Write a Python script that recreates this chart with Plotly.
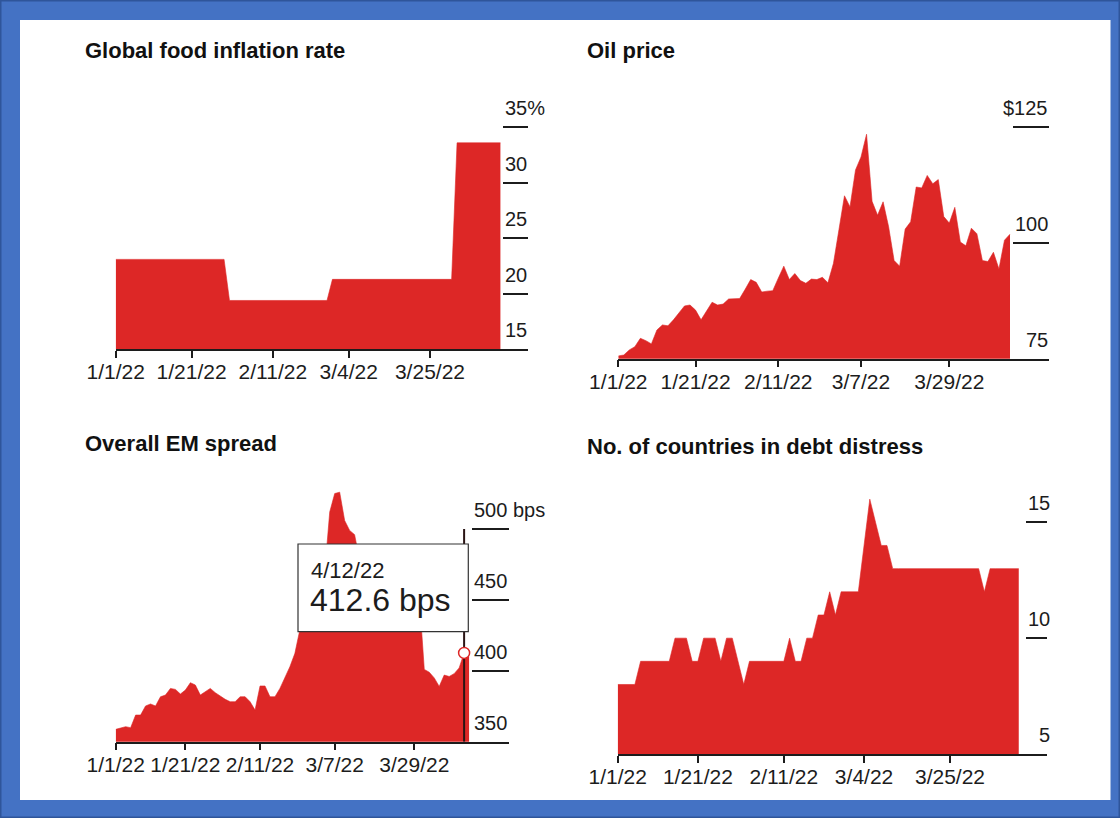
import pandas as pd
import plotly.graph_objects as go

# ---------------- data ----------------
food_dates = ["2022-01-03", "2022-01-31", "2022-02-01", "2022-02-28",
              "2022-03-01", "2022-03-31", "2022-04-01", "2022-04-13"]
food_values = [23.1, 23.1, 19.4, 19.4, 21.3, 21.3, 33.6, 33.6]

oil_values = [75.6, 75.8, 76.9, 77.6, 79.4, 78.9, 78.2, 81.2, 82.3, 82.1,
              83.4, 84.9, 86.4, 86.6, 85.5, 83.4, 85.2, 87.2, 86.6, 86.8,
              87.9, 87.9, 88.0, 90.0, 92.1, 91.5, 89.4, 89.6, 89.7, 92.4,
              95.0, 92.1, 93.4, 91.9, 91.3, 92.2, 92.1, 92.6, 91.4, 95.6,
              103.0, 110.2, 107.8, 115.8, 118.6, 123.5, 109.0, 106.0, 108.9, 103.5,
              96.2, 95.0, 103.0, 104.6, 112.1, 111.9, 114.6, 112.8, 113.7, 105.7,
              104.3, 107.7, 100.2, 99.4, 103.2, 102.0, 96.2, 96.0, 98.0, 94.4,
              100.6, 101.9]

em_values = [358.7, 359.4, 360.6, 359.9, 368.8, 368.8, 375.2, 376.6, 375.2, 381.7,
             382.9, 387.6, 386.9, 383.6, 386.4, 391.6, 390.0, 382.9, 385.3, 387.6,
             384.6, 382.2, 379.9, 378.2, 378.2, 381.7, 381.7, 378.2, 372.3, 389.3,
             389.3, 381.7, 381.7, 387.6, 394.7, 402.9, 412.3, 429.0, 440.0, 450.0,
             458.0, 463.0, 470.0, 512.0, 525.0, 526.0, 506.0, 499.0, 496.0, 478.0,
             470.0, 463.0, 468.0, 462.0, 456.0, 452.0, 448.0, 446.0, 442.0, 440.0,
             448.0, 452.0, 401.0, 399.0, 395.0, 389.0, 397.0, 396.0, 398.0, 402.0,
             412.6, 410.0]

debt_values = [8, 8, 8, 8, 9, 9, 9, 9, 9, 9,
               10, 10, 10, 9, 9, 10, 10, 10, 9, 10,
               10, 9, 8, 9, 9, 9, 9, 9, 9, 9,
               10, 9, 9, 10, 10, 11, 11, 12, 11, 12,
               12, 12, 12, 14, 16, 15, 14, 14, 13, 13,
               13, 13, 13, 13, 13, 13, 13, 13, 13, 13,
               13, 13, 13, 13, 12, 13, 13, 13, 13, 13,
               13]

ticks_a = ["2022-01-03", "2022-01-21", "2022-02-11", "2022-03-04", "2022-03-25"]
labels_a = ["1/1/22", "1/21/22", "2/11/22", "3/4/22", "3/25/22"]
ticks_b = ["2022-01-03", "2022-01-21", "2022-02-11", "2022-03-07", "2022-03-29"]
labels_b = ["1/1/22", "1/21/22", "2/11/22", "3/7/22", "3/29/22"]

food_yticks = [15, 20, 25, 30, 35]
food_ylabels = ["15", "20", "25", "30", "35%"]
oil_yticks = [75, 100, 125]
oil_ylabels = ["75", "100", "$125"]
em_yticks = [350, 400, 450, 500]
em_ylabels = ["350", "400", "450", "500 bps"]
debt_yticks = [5, 10, 15]
debt_ylabels = ["5", "10", "15"]

titles = ["Global food inflation rate", "Oil price",
          "Overall EM spread", "No. of countries in debt distress"]

hover_date = "2022-04-12"
hover_value = 412.6
hover_date_label = "4/12/22"
hover_value_label = "412.6 bps"

HOLIDAYS = ["2022-02-21"]


def trading_days(n):
    return pd.bdate_range("2022-01-03", periods=n, freq="C",
                          holidays=HOLIDAYS).strftime("%Y-%m-%d").tolist()


# ---------------- style / layout ----------------
W, H = 1120, 818
RED = "#DD2726"
INK = "#1c1c1c"
FRAME = "#4472C4"
FONT = "Liberation Sans, Arial, Helvetica, sans-serif"


def px(x):
    return x / W


def py(y):
    return 1 - y / H


def top_px(yb, yt, lo, hi, top):
    # pixel row of the upper range limit, keeping the tick spacing seen in the reference
    return yb - (top - lo) * (yb - yt) / (hi - lo)


panels = [
    dict(x=food_dates, y=food_values, x0=115.7, x1=527.5, yb=349.3, yt=127.3,
         xr=["2022-01-03", "2022-04-20"], lo=15, hi=35, top=35.4, ticklen=25,
         tv=ticks_a, tt=labels_a, ytv=food_yticks, ytt=food_ylabels,
         lab_x=503, lab_anchor="left", title_xy=(85, 50)),
    dict(x=trading_days(len(oil_values)), y=oil_values, x0=618.3, x1=1048.6, yb=358.7, yt=127.3,
         xr=["2022-01-03", "2022-04-22"], lo=75, hi=125, top=126, ticklen=36,
         tv=ticks_b, tt=labels_b, ytv=oil_yticks, ytt=oil_ylabels,
         lab_x=1050, lab_anchor="right", title_xy=(587, 50)),
    dict(x=trading_days(len(em_values)), y=em_values, x0=115.7, x1=508.9, yb=741.7, yt=529.0,
         xr=["2022-01-03", "2022-04-25"], lo=350, hi=500, top=530, ticklen=37,
         tv=ticks_b, tt=labels_b, ytv=em_yticks, ytt=em_ylabels,
         lab_x=471.5, lab_anchor="left", title_xy=(85, 444)),
    dict(x=trading_days(len(debt_values)), y=debt_values, x0=617.7, x1=1047.4, yb=754, yt=522.3,
         xr=["2022-01-03", "2022-04-19"], lo=5, hi=15, top=16.5, ticklen=21,
         tv=ticks_a, tt=labels_a, ytv=debt_yticks, ytt=debt_ylabels,
         lab_x=1052, lab_anchor="right", title_xy=(587, 446)),
]

fig = go.Figure()
layout = dict(
    width=W, height=H, margin=dict(l=0, r=0, t=0, b=0, pad=0, autoexpand=False),
    autosize=False,
    paper_bgcolor=FRAME, plot_bgcolor="white", showlegend=False,
    font=dict(family=FONT, color=INK), hovermode=False,
)
annotations = []
shapes = [
    dict(type="rect", xref="paper", yref="paper", x0=0, x1=1, y0=0, y1=1,
         line=dict(color="#2F559A", width=3), fillcolor=FRAME, layer="below"),
    dict(type="rect", xref="paper", yref="paper", x0=px(20), x1=px(1110.5),
         y0=py(800), y1=py(20), line=dict(width=0), fillcolor="white", layer="below"),
]

for i, p in enumerate(panels, start=1):
    sfx = "" if i == 1 else str(i)
    xa, ya = "x" + sfx, "y" + sfx
    fig.add_trace(go.Scatter(
        x=p["x"], y=p["y"], xaxis=xa, yaxis=ya, mode="lines",
        line=dict(color=RED, width=0.6), fill="tozeroy", fillcolor=RED,
    ))
    ytop = top_px(p["yb"], p["yt"], p["lo"], p["hi"], p["top"])
    layout["xaxis" + sfx] = dict(
        domain=[px(p["x0"]), px(p["x1"])], anchor=ya, type="date",
        range=p["xr"], rangebreaks=[dict(bounds=["sat", "mon"]), dict(values=HOLIDAYS)],
        tickmode="array", tickvals=p["tv"], ticktext=p["tt"],
        ticks="outside", ticklen=7, tickwidth=1.5, tickcolor=INK,
        ticklabelstandoff=-4,
        showline=True, linecolor=INK, linewidth=1.5,
        showgrid=False, zeroline=False, automargin=False,
        tickfont=dict(size=21, color=INK, family=FONT),
    )
    layout["yaxis" + sfx] = dict(
        domain=[py(p["yb"]), py(ytop)], anchor=xa, side="right",
        range=[p["lo"], p["top"]], tickmode="array", tickvals=p["ytv"],
        ticks="inside", ticklen=p["ticklen"], tickwidth=1.5, tickcolor=INK,
        showticklabels=False, showline=False, showgrid=False, zeroline=False,
        automargin=False,
    )
    for v, t in zip(p["ytv"], p["ytt"]):
        annotations.append(dict(
            text=t, xref="paper", x=px(p["lab_x"]), xanchor=p["lab_anchor"],
            yref=ya, y=v, yanchor="bottom", yshift=6, showarrow=False,
            font=dict(size=20, color=INK, family=FONT),
        ))
    tx, ty = p["title_xy"]
    annotations.append(dict(
        text="<b>" + titles[i - 1] + "</b>", xref="paper", yref="paper",
        x=px(tx - 2), y=py(ty), xanchor="left", yanchor="middle", showarrow=False,
        font=dict(size=22, color="#111111", family=FONT),
    ))

# hover read-out on the EM spread panel
shapes += [
    dict(type="line", xref="x3", yref="y3", x0=hover_date, x1=hover_date,
         y0=em_yticks[0], y1=em_yticks[-1], line=dict(color="#2a1414", width=2)),
    dict(type="circle", xref="x3", yref="y3", xsizemode="pixel", ysizemode="pixel",
         xanchor=hover_date, yanchor=hover_value, x0=-5.5, x1=5.5, y0=-5.5, y1=5.5,
         fillcolor="white", line=dict(color=RED, width=1.5)),
    dict(type="rect", xref="paper", yref="paper", x0=px(298), x1=px(468.3),
         y0=py(631.7), y1=py(544), fillcolor="white", line=dict(color="#333333", width=1.2)),
]
annotations += [
    dict(text=hover_date_label, xref="paper", yref="paper", x=px(309), y=py(570),
         xanchor="left", yanchor="middle", showarrow=False,
         font=dict(size=22, color=INK, family=FONT)),
    dict(text=hover_value_label, xref="paper", yref="paper", x=px(308), y=py(600),
         xanchor="left", yanchor="middle", showarrow=False,
         font=dict(size=32, color=INK, family=FONT)),
]

layout["annotations"] = annotations
layout["shapes"] = shapes
fig.update_layout(**layout)

fig.write_html("out.html", include_plotlyjs=True, full_html=True,
               config={"displayModeBar": False, "responsive": False},
               post_script="document.body.style.margin='0px';")
